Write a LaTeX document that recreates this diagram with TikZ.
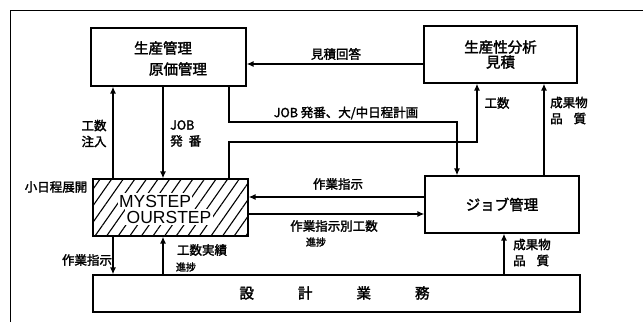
\documentclass[tikz,border=0pt]{standalone}
\usepackage{fontspec}
\setmainfont{Liberation Sans}
\newfontfamily\jp{Noto Sans CJK JP}[FakeBold=2]
\usetikzlibrary{arrows.meta,patterns.meta}
\tikzset{
  box/.style={draw, line width=1.1pt, inner sep=0pt},
  arr/.style={line width=1.4pt, -{Latex[length=7pt,width=6pt]}},
  ln/.style={line width=1.4pt},
  jpt/.style={font=\jp\fontsize{14.5}{15}\selectfont, inner sep=0pt},
  lbl/.style={font=\jp\fontsize{12.5}{16}\selectfont, inner sep=0pt},
  sml/.style={font=\jp\fontsize{10}{12}\selectfont, inner sep=0pt},
  latin/.style={font=\fontsize{17.5}{18}\selectfont, fill=white, inner sep=1.5pt},
}
\begin{document}
\begin{tikzpicture}[x=1pt,y=-1pt]
\useasboundingbox (0,0) rectangle (643,322);
% frame
\draw[line width=0.9pt] (10,322) -- (10,10) -- (643,10);
% boxes
\node[box, minimum width=155pt, minimum height=58pt] (pm) at (168.5,57) {};
\node[jpt] (pmA) at (163,48) {生産管理};
\node[jpt] (pmB) at (178,69) {原価管理};
\node[box, minimum width=153pt, minimum height=57pt, jpt, align=center] (pa) at (500.5,54.5) {生産性分析\\見積};
\node[box, minimum width=155pt, minimum height=57pt, pattern={Lines[angle=55,distance=9.5pt,line width=1.1pt]}] (ms) at (170.5,207.5) {};
\node[latin] (msA) at (155,201) {MYSTEP};
\node[latin] (msB) at (169,217) {OURSTEP};
\node[box, minimum width=154pt, minimum height=57pt, jpt] (jm) at (502,204.5) {ジョブ管理};
\node[box, minimum width=487pt, minimum height=37pt] (sg) at (336.5,293.5) {};
\node[jpt] (sgT) at (334.5,293) {設\hspace{44pt}計\hspace{44pt}業\hspace{44pt}務};
% connectors
\draw[arr] (pa.west |- 0,64) -- (pm.east |- 0,64);
\node[lbl] (l1) at (336,54) {見積回答};
\draw[arr] (pm.south -| 229,0) -- (229,122) -- (457,122) -- (jm.north -| 457,0);
\node[lbl] (l2) at (346,113) {JOB 発番、大/中日程計画};
\draw[arr] (ms.north -| 229,0) -- (229,142) -- (477,142) -- (pa.south -| 477,0);
\node[lbl] (l3) at (497,103) {工数};
\draw[arr] (jm.north -| 544,0) -- (pa.south -| 544,0);
\node[lbl, align=left, anchor=west] (l4) at (550,110.5) {成果物\\品\hspace{11pt}質};
\draw[arr] (ms.north -| 113,0) -- (pm.south -| 113,0);
\node[lbl, align=center] (l5) at (94,133.5) {工数\\注入};
\draw[arr] (pm.south -| 163,0) -- (ms.north -| 163,0);
\node[lbl, align=left, anchor=west] (l6) at (170,133.5) {JOB\\発\hspace{6pt}番};
\node[lbl] (l7) at (56,187) {小日程展開};
\draw[arr] (jm.west |- 0,197) -- (ms.east |- 0,197);
\node[lbl] (l8) at (338,184) {作業指示};
\draw[arr] (ms.east |- 0,214) -- (jm.west |- 0,214);
\node[lbl] (l9) at (334,226) {作業指示別工数};
\node[sml] (l10) at (316,242) {進捗};
\draw[arr] (ms.south -| 113,0) -- (sg.north -| 113,0);
\node[lbl] (l11) at (87,260) {作業指示};
\draw[arr] (sg.north -| 163,0) -- (ms.south -| 163,0);
\node[lbl] (l12) at (202,250) {工数実績};
\node[sml] (l13) at (186,267) {進捗};
\draw[arr] (sg.north -| 504,0) -- (jm.south -| 504,0);
\node[lbl, align=left, anchor=west] (l14) at (513,252.5) {成果物\\品\hspace{11pt}質};
\end{tikzpicture}
\end{document}
